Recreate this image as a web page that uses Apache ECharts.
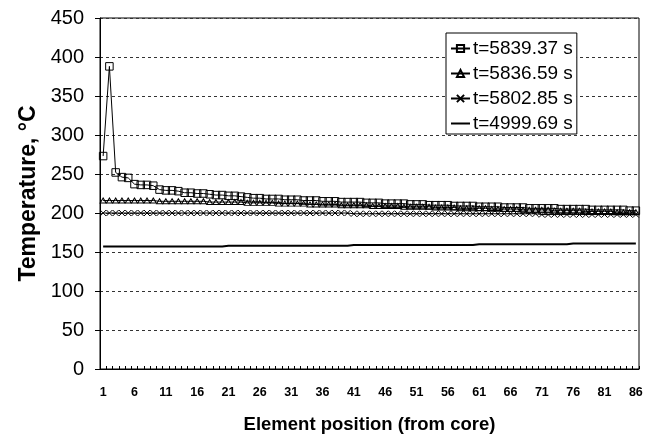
<!DOCTYPE html>
<html>
<head>
<meta charset="utf-8">
<script src="https://cdn.jsdelivr.net/npm/echarts@6/dist/echarts.min.js"></script>
<style>
  html, body { margin: 0; padding: 0; background: #fff; }
  #chart { width: 653px; height: 440px; }
</style>
</head>
<body>
<div id="chart"></div>
<script>
// Element positions along the radius, 1 = core
const elements = Array.from({ length: 86 }, (_, i) => String(i + 1));

const seriesNames = ['t=5839.37 s', 't=5836.59 s', 't=5802.85 s', 't=4999.69 s'];

// Temperatures (°C) per element at each time
const temp5839 = [
  273, 388, 252, 246, 245, 237, 236, 236, 235, 230,
  229, 229, 228, 226, 226, 225, 225, 224, 223, 223,
  222, 222, 221, 220, 219, 219, 218, 218, 218, 217,
  217, 217, 216, 216, 216, 215, 215, 215, 214, 214,
  214, 214, 213, 213, 213, 212, 212, 212, 212, 211,
  211, 211, 210, 210, 210, 210, 209, 209, 209, 209,
  208, 208, 208, 208, 207, 207, 207, 207, 206, 206,
  206, 206, 206, 205, 205, 205, 205, 205, 204, 204,
  204, 204, 204, 204, 203, 203
];
const temp5836 = [
  216, 216, 216, 216, 216, 216, 216, 216, 216, 215,
  215, 215, 215, 215, 215, 215, 215, 214, 214, 214,
  214, 214, 214, 213, 213, 213, 213, 213, 212, 212,
  212, 212, 212, 211, 211, 211, 211, 211, 210, 210,
  210, 210, 210, 209, 209, 209, 209, 209, 208, 208,
  208, 208, 208, 207, 207, 207, 207, 206, 206, 206,
  206, 206, 205, 205, 205, 205, 205, 204, 204, 204,
  204, 204, 203, 203, 203, 203, 203, 202, 202, 202,
  202, 202, 201, 201, 201, 201
];
const temp5802 = [
  200, 200, 200, 200, 200, 200, 200, 200, 200, 200,
  200, 200, 200, 200, 200, 200, 200, 200, 200, 200,
  200, 200, 200, 200, 200, 200, 200, 200, 200, 200,
  200, 200, 200, 200, 200, 200, 200, 200, 200, 200,
  199, 199, 199, 199, 199, 199, 199, 199, 199, 199,
  199, 199, 199, 199, 199, 199, 199, 199, 199, 199,
  199, 199, 199, 199, 199, 199, 199, 199, 199, 199,
  198, 198, 198, 198, 198, 198, 198, 198, 198, 198,
  198, 198, 198, 198, 198, 198
];
const temp4999 = [
  157, 157, 157, 157, 157, 157, 157, 157, 157, 157,
  157, 157, 157, 157, 157, 157, 157, 157, 157, 157,
  158, 158, 158, 158, 158, 158, 158, 158, 158, 158,
  158, 158, 158, 158, 158, 158, 158, 158, 158, 158,
  159, 159, 159, 159, 159, 159, 159, 159, 159, 159,
  159, 159, 159, 159, 159, 159, 159, 159, 159, 159,
  160, 160, 160, 160, 160, 160, 160, 160, 160, 160,
  160, 160, 160, 160, 160, 161, 161, 161, 161, 161,
  161, 161, 161, 161, 161, 161
];

const FONT = '"Liberation Sans", Arial, sans-serif';
const CLEAR = 'rgba(0,0,0,0)';
const crossSymbol = 'path://M0,0L10,10M10,0L0,10';
// marker that draws nothing: two zero-length segments span its box
const blankSymbol = 'path://M0,0L0,0M10,10L10,10';

// hollow, thin-outlined markers
function hollow() {
  return { color: CLEAR, borderColor: '#000', borderWidth: 1 };
}

const chart = echarts.init(document.getElementById('chart'), null, { renderer: 'canvas' });

chart.setOption({
  backgroundColor: '#fff',
  animation: false,
  grid: {
    left: 100, right: 14, top: 18, bottom: 71,
    show: true, borderColor: '#000', borderWidth: 1
  },
  legend: {
    left: 446, top: 33,
    orient: 'vertical',
    data: seriesNames,
    itemWidth: 19, itemHeight: 9, itemGap: 6,
    padding: [6, 4, 1, 4],
    borderColor: '#000', borderWidth: 1,
    backgroundColor: '#fff',
    textStyle: { fontFamily: FONT, fontSize: 19, color: '#000', padding: [0, 0, 0, -2] }
  },
  xAxis: {
    type: 'category',
    data: elements,
    boundaryGap: true,
    name: 'Element position (from core)',
    nameLocation: 'middle',
    nameGap: 46,
    nameTextStyle: { fontFamily: FONT, fontSize: 18.5, fontWeight: 'bold', color: '#000' },
    axisLine: { lineStyle: { color: '#000', width: 1 } },
    axisTick: { show: true, inside: true, length: 3, interval: 0, lineStyle: { color: '#000' } },
    axisLabel: { interval: 4, margin: 17, fontFamily: FONT, fontSize: 12.5, fontWeight: 'bold', color: '#000' },
    splitLine: { show: false }
  },
  yAxis: {
    type: 'value',
    min: 0, max: 450, interval: 50,
    name: 'Temperature, °C',
    nameLocation: 'middle',
    nameGap: 59,
    nameTextStyle: { fontFamily: FONT, fontSize: 23, fontWeight: 'bold', color: '#000' },
    axisLine: { show: true, lineStyle: { color: '#000', width: 1 } },
    axisTick: { show: true, length: 5, lineStyle: { color: '#000' } },
    axisLabel: { margin: 16, fontFamily: FONT, fontSize: 20, color: '#000' },
    splitLine: { show: true, lineStyle: { color: '#333', type: [3, 3], width: 1 } }
  },
  series: [
    {
      name: seriesNames[0], type: 'line', data: temp5839,
      symbol: 'rect', symbolSize: 7.5, showAllSymbol: true,
      lineStyle: { color: '#000', width: 1 },
      itemStyle: hollow(),
      z: 5
    },
    {
      name: seriesNames[1], type: 'line', data: temp5836,
      symbol: 'triangle', symbolSize: [6, 5], showAllSymbol: true,
      lineStyle: { color: '#000', width: 1 },
      itemStyle: hollow(),
      z: 4
    },
    {
      name: seriesNames[2], type: 'line', data: temp5802,
      symbol: crossSymbol, symbolSize: 6, showAllSymbol: true,
      lineStyle: { color: '#000', width: 1 },
      itemStyle: hollow(),
      z: 3
    },
    {
      name: seriesNames[3], type: 'line', data: temp4999,
      symbol: blankSymbol, showSymbol: false,
      lineStyle: { color: '#000', width: 2 },
      itemStyle: { color: CLEAR, borderColor: CLEAR, borderWidth: 0 },
      z: 2
    }
  ]
});
</script>
</body>
</html>
